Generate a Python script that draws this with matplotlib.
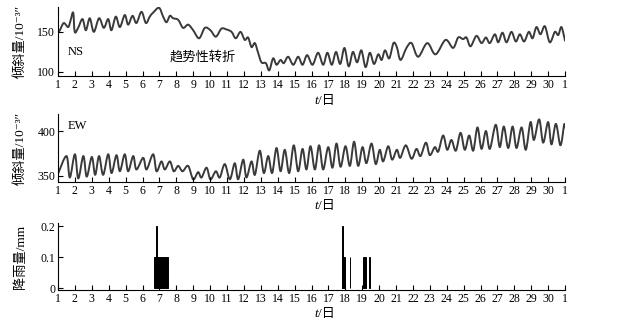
import numpy as np
import matplotlib
matplotlib.use("Agg")
import matplotlib.pyplot as plt
from matplotlib.path import Path
from matplotlib.patches import PathPatch

FAM = ["Liberation Serif", "Noto Sans CJK SC", "DejaVu Sans"]
plt.rcParams["font.family"] = FAM

# NS 倾斜量 (日, 值)
ns_t = [1.0, 1.11, 1.34, 1.6, 1.74, 1.9, 1.99, 2.19, 2.45, 2.65, 2.88, 3.12, 3.43, 3.71,
        3.97, 4.16, 4.42, 4.66, 4.95, 5.15, 5.41, 5.64, 5.94, 6.2, 6.43, 6.63, 6.98, 7.22,
        7.42, 7.62, 7.81, 8.11, 8.4, 8.7, 9.0, 9.35, 9.69, 10.02, 10.34, 10.67, 10.97,
        11.27, 11.52, 11.8, 12.05, 12.25, 12.45, 12.65, 12.84, 13.04, 13.3, 13.5, 13.73,
        13.93, 14.17, 14.36, 14.62, 14.92, 15.21, 15.47, 15.74, 16.06, 16.39, 16.69, 16.94,
        17.2, 17.45, 17.7, 17.95, 18.2, 18.45, 18.7, 18.95, 19.2, 19.45, 19.7, 19.95, 20.15,
        20.35, 20.6, 20.85, 21.05, 21.27, 21.62, 21.92, 22.31, 22.85, 23.34, 23.93, 24.38,
        24.68, 24.97, 25.17, 25.41, 25.76, 26.06, 26.32, 26.55, 26.85, 27.05, 27.3, 27.54,
        27.83, 28.09, 28.33, 28.58, 28.86, 29.08, 29.31, 29.55, 29.81, 30.1, 30.4, 30.6,
        30.79, 31.0]
ns_v = [149, 152, 161, 156, 164, 174, 150, 155, 166, 152, 167, 150, 167, 155,
        166, 152, 169, 156, 171, 159, 170, 161, 175, 161, 169, 174, 180, 169,
        162, 170, 167, 165, 155, 159, 152, 142, 155, 152, 144, 154, 153,
        150, 142, 150, 140, 143, 131, 136, 124, 112, 111, 102, 117,
        109, 115, 111, 119, 109, 119, 109, 121, 109, 124, 109, 124,
        109, 125, 110, 130, 107, 125, 112, 127, 106, 124, 110, 122, 115,
        127, 117, 136, 131, 115, 130, 136, 119, 136, 122, 140, 130,
        143, 141, 143, 132, 145, 136, 143, 136, 147, 137, 149, 137,
        150, 138, 147, 138, 150, 142, 156, 147, 157, 137, 150, 146,
        156, 139]

# EW 倾斜量 (日, 值)
ew_t = [1.0, 1.5, 1.7, 2.0, 2.2, 2.5, 2.7, 3.0, 3.2, 3.43, 3.67, 3.97, 4.17, 4.46, 4.66,
        4.95, 5.15, 5.45, 5.64, 6.04, 6.24, 6.63, 6.83, 7.12, 7.32, 7.62, 7.85, 8.11, 8.37,
        8.7, 9.0, 9.29, 9.49, 9.79, 10.02, 10.34, 10.57, 10.87, 11.17, 11.46, 11.66, 11.96,
        12.15, 12.45, 12.65, 12.94, 13.18, 13.44, 13.67, 13.93, 14.17, 14.42, 14.68, 14.95,
        15.21, 15.47, 15.7, 15.94, 16.2, 16.45, 16.69, 16.99, 17.24, 17.48, 17.72, 18.01,
        18.27, 18.52, 18.76, 19.02, 19.25, 19.55, 19.8, 20.04, 20.24, 20.54, 20.77, 21.05,
        21.25, 21.58, 21.92, 22.21, 22.45, 22.77, 23.0, 23.3, 23.5, 23.79, 24.03, 24.28,
        24.54, 24.82, 25.07, 25.33, 25.57, 25.82, 26.06, 26.32, 26.55, 26.9, 27.14, 27.38,
        27.64, 27.9, 28.13, 28.43, 28.68, 28.96, 29.16, 29.47, 29.71, 30.0, 30.2, 30.46,
        30.73, 30.95, 31.0]
ew_v = [352, 372, 348, 374, 347, 372, 349, 371, 351, 372, 351, 374, 353, 373, 355,
        374, 355, 372, 357, 370, 357, 374, 355, 366, 357, 366, 355, 361, 355,
        361, 346, 354, 348, 359, 346, 355, 348, 363, 346, 364, 346, 368,
        348, 366, 351, 378, 353, 372, 353, 381, 355, 379, 353, 384,
        355, 380, 357, 383, 357, 384, 357, 382, 359, 386, 360, 383,
        361, 388, 361, 382, 364, 386, 363, 379, 366, 383, 368, 379,
        370, 384, 369, 380, 372, 387, 373, 382, 377, 395, 379, 390,
        378, 398, 379, 395, 378, 404, 380, 400, 380, 407, 382, 405,
        381, 405, 381, 404, 379, 410, 390, 413, 387, 410, 385, 408,
        384, 407, 404]

# 降雨 (起始日, 持续日数, 降雨量 mm)
rain_start = [6.69, 6.81, 17.80, 17.82, 18.25, 19.06, 19.39]
rain_dur = [0.79, 0.05, 0.05, 0.19, 0.05, 0.14, 0.05]
rain_mm = [0.1, 0.2, 0.2, 0.1, 0.1, 0.1, 0.1]

day_ticks = list(range(1, 32))
day_labels = [str(d) for d in range(1, 31)] + ["1"]

W, H = 618, 327
fig = plt.figure(figsize=(W / 100, H / 100), dpi=100)
L, R = 58, 565


def mk_axes(top, bottom):
    return fig.add_axes([L / W, 1 - bottom / H, (R - L) / W, (bottom - top) / H])


def smooth_line(ax, x, y, **kw):
    # 用贝塞尔曲线连接读数点，仅用于绘制圆滑的曲线
    p = np.column_stack([x, y]).astype(float)
    n = len(p)
    verts, codes = [p[0]], [Path.MOVETO]
    for i in range(n - 1):
        a = p[max(i - 1, 0)]
        d = p[min(i + 2, n - 1)]
        verts += [p[i] + (p[i + 1] - a) / 6, p[i + 1] - (d - p[i]) / 6, p[i + 1]]
        codes += [Path.CURVE4] * 3
    ax.add_patch(PathPatch(Path(verts, codes), fill=False, **kw))


ax1 = mk_axes(7, 76)
ax2 = mk_axes(114, 182)
ax3 = mk_axes(223, 290)

lc = "#3a3a3a"
smooth_line(ax1, ns_t, ns_v, edgecolor=lc, lw=1.4, joinstyle="round", capstyle="round")
smooth_line(ax2, ew_t, ew_v, edgecolor=lc, lw=1.4, joinstyle="round", capstyle="round")
ax3.bar(rain_start, rain_mm, width=rain_dur, align="edge", color="black",
        edgecolor="black", linewidth=0.7)

ax1.set_ylim(95, 181)
ax1.set_yticks([100, 150])
ax2.set_ylim(343, 419)
ax2.set_yticks([350, 400])
ax3.set_ylim(-0.006, 0.21)
ax3.set_yticks([0, 0.1, 0.2])
ax3.set_yticklabels(["0", "0.1", "0.2"])

ylab = "倾斜量/10⁻³″"
ax1.set_ylabel(ylab, fontsize=9.5)
ax2.set_ylabel(ylab, fontsize=9.5)
ax3.set_ylabel("降雨量/mm", fontsize=9.5)

for ax in (ax1, ax2, ax3):
    ax.set_xlim(1, 31)
    ax.set_xticks(day_ticks)
    ax.set_xticklabels(day_labels)
    ax.spines["top"].set_visible(False)
    ax.spines["right"].set_visible(False)
    ax.tick_params(direction="in", length=3.5, width=0.8, labelsize=8.5, pad=2)
    ax.yaxis.set_label_coords(-0.062, 0.5)
    # 横轴标签 t/日（t 为斜体）
    ax.text(0.513, -0.27, "t", transform=ax.transAxes, fontsize=9.5,
            style="italic", ha="right", va="top", family=FAM)
    ax.text(0.513, -0.27, "/日", transform=ax.transAxes, fontsize=9.5,
            ha="left", va="top", family=FAM)

ax1.text(1.6, 125, "NS", fontsize=9, va="center")
ax1.text(7.6, 119, "趋势性转折", fontsize=9.5, va="center")
ax2.text(1.6, 406, "EW", fontsize=9, va="center")

fig.savefig("out.png", dpi=100)
